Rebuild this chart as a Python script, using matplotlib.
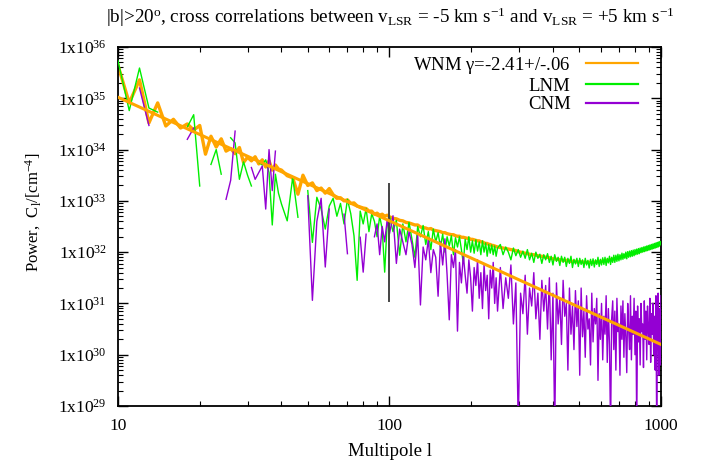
import numpy as np
import matplotlib
matplotlib.use('Agg')
import matplotlib.pyplot as plt
from matplotlib.ticker import FuncFormatter, FixedLocator, NullFormatter

nan = np.nan

# multipole grid (dense at low l, thinned at high l)
l_a = np.arange(10, 41)
l_b = np.arange(42, 101, 2)
l_c = np.arange(103, 251, 3)
l_d = np.arange(256, 1001, 6)

# log10 of the power
wnm_a = [35.64, 34.91, 35.36, 34.52, 34.91, 34.46, 34.59, 34.42, 34.50, 34.38,
         34.47, 33.91, 34.26, 34.05, 34.21, 33.97, 34.02, 33.92, 34.04, 33.75,
         33.85, 33.78, 33.86, 33.72, 33.80, 33.66, 33.78, 33.60, 33.70, 33.62, 33.60]
wnm_b = [33.49, 33.45, 33.13, 33.50, 33.30, 33.35, 33.20, 33.25, 33.15, 33.24,
         33.12, 33.05, 33.06, 33.00, 33.02, 32.95, 32.96, 32.90, 32.88, 32.86,
         32.85, 32.80, 32.80, 32.74, 32.76, 32.72, 32.74, 32.70, 32.72, 32.69]
wnm_c = [32.66, 32.65, 32.62, 32.61, 32.58, 32.57, 32.55, 32.53, 32.53, 32.49,
         32.48, 32.47, 32.45, 32.46, 32.43, 32.42, 32.41, 32.40, 32.38, 32.38,
         32.36, 32.35, 32.34, 32.34, 32.32, 32.31, 32.31, 32.29, 32.29, 32.28,
         32.27, 32.27, 32.25, 32.25, 32.24, 32.23, 32.22, 32.22, 32.20, 32.20,
         32.18, 32.17, 32.17, 32.15, 32.15, 32.13, 32.13, 32.12, 32.11, 32.10]
wnm_d = [32.09, 32.08, 32.07, 32.06, 32.05, 32.04, 32.03, 32.01, 32.00, 31.99,
         31.98, 31.97, 31.96, 31.95, 31.95, 31.94, 31.93, 31.92, 31.92, 31.91,
         31.90, 31.90, 31.89, 31.88, 31.87, 31.87, 31.86, 31.86, 31.85, 31.85,
         31.84, 31.84, 31.84, 31.83, 31.83, 31.82, 31.82, 31.82, 31.82, 31.81,
         31.81, 31.81, 31.81, 31.81, 31.80, 31.80, 31.80, 31.80, 31.80, 31.80,
         31.80, 31.80, 31.80, 31.81, 31.81, 31.81, 31.81, 31.82, 31.82, 31.82,
         31.83, 31.83, 31.83, 31.84, 31.84, 31.85, 31.85, 31.86, 31.86, 31.87,
         31.87, 31.88, 31.88, 31.89, 31.89, 31.90, 31.91, 31.91, 31.92, 31.92,
         31.93, 31.93, 31.94, 31.94, 31.95, 31.96, 31.96, 31.97, 31.97, 31.98,
         31.98, 31.99, 31.99, 32.00, 32.01, 32.01, 32.02, 32.02, 32.03, 32.03,
         32.04, 32.04, 32.05, 32.05, 32.06, 32.06, 32.07, 32.07, 32.08, 32.08,
         32.09, 32.09, 32.10, 32.10, 32.11, 32.11, 32.12, 32.12, 32.13, 32.13,
         32.14, 32.14, 32.15, 32.15, 32.16]

lnm_a = [35.73, 34.76, 35.59, 34.81, 34.73, nan, nan, nan, 34.44, 34.68,
         33.29, nan, 33.71, 34.00, 33.52, nan, 34.23, 34.13, 33.42, 33.76,
         33.50, 33.29, nan, 33.75, 33.70, 33.80, 33.55, 32.53, 33.52, 33.15, 32.94]
lnm_b = [32.61, 33.46, 32.68, nan, 33.20, 32.19, 33.07, 32.84, 32.45, 32.90,
         33.05, 32.70, 32.95, 32.55, 33.03, 32.75, 32.32, 31.45, 32.80, 32.55,
         32.85, 32.40, 32.75, 32.60, 32.30, 32.70, 32.45, 31.61, 32.55, 32.70]
lnm_c = [32.40, 32.62, 31.94, 32.55, 32.20, 32.58, 32.25, 31.90, 32.50, 32.30,
         32.52, 32.15, 32.40, 32.05, 32.45, 32.20, 32.38, 32.10, 32.35, 32.00,
         32.30, 32.12, 32.32, 31.95, 32.28, 32.10, 32.30, 32.05, 31.78, 32.25,
         32.05, 32.30, 32.00, 32.22, 31.98, 32.24, 32.02, 32.20, 31.95, 32.22,
         32.00, 32.18, 31.92, 32.15, 31.98, 32.14, 31.95, 32.12, 31.92, 32.08]
lnm_d = [32.15, 31.95, 32.10, 32.00, 31.85, 32.08, 31.93, 32.05, 31.90, 32.02,
         31.88, 32.05, 31.85, 31.98, 31.80, 32.00, 31.88, 31.96, 31.78, 31.95,
         31.85, 31.97, 31.80, 31.92, 31.75, 31.95, 31.82, 31.90, 31.74, 31.92,
         31.80, 31.90, 31.72, 31.88, 31.78, 31.92, 31.70, 31.86, 31.77, 31.88,
         31.72, 31.88, 31.76, 31.85, 31.70, 31.88, 31.75, 31.84, 31.69, 31.86,
         31.74, 31.87, 31.71, 31.85, 31.76, 31.90, 31.72, 31.86, 31.75, 31.89,
         31.76, 31.90, 31.74, 31.88, 31.79, 31.92, 31.76, 31.90, 31.80, 31.94,
         31.80, 31.94, 31.82, 31.96, 31.83, 31.95, 31.85, 31.98, 31.86, 31.97,
         31.88, 32.00, 31.87, 32.01, 31.90, 32.02, 31.91, 32.03, 31.92, 32.04,
         31.93, 32.05, 31.95, 32.06, 31.96, 32.07, 31.97, 32.08, 31.99, 32.09,
         32.00, 32.10, 32.01, 32.11, 32.02, 32.12, 32.03, 32.13, 32.04, 32.14,
         32.05, 32.15, 32.06, 32.16, 32.07, 32.17, 32.08, 32.18, 32.09, 32.19,
         32.10, 32.20, 32.12, 32.21, 32.16]

cnm_a = [nan, nan, 35.20, 34.47, nan, nan, nan, nan, 34.20, 34.42,
         nan, nan, nan, nan, nan, 33.03, 33.40, 34.36, nan, nan,
         nan, 33.65, 33.42, 33.55, 33.68, 32.84, 34.00, 33.20, 33.97, nan, nan]
cnm_b = [nan, nan, nan, nan, 33.10, 31.06, 32.60, 33.05, 31.71, 32.84,
         nan, nan, nan, 32.74, 31.97, nan, nan, nan, 32.29, 31.61,
         32.35, nan, nan, 32.30, 32.55, 31.95, 32.50, 32.20, 32.62, 32.36]
cnm_c = [32.71, 31.78, 32.45, 32.20, 31.95, 32.40, 32.15, 31.70, 32.35, 30.97,
         32.10, 31.85, 32.25, 31.60, 32.05, 31.90, 31.14, 32.20, 31.75, 32.26,
         31.55, 30.68, 31.95, 31.70, 32.05, 30.46, 31.80, 31.40, 31.95, 31.55,
         31.20, 31.85, 31.50, 30.85, 31.70, 31.35, 31.85, 31.10, 31.60, 30.90,
         31.75, 31.25, 31.55, 30.70, 31.65, 31.30, 31.80, 31.00, 31.50, 30.85]
cnm_d = [31.70, 30.90, 31.50, 31.10, 31.75, 30.60, 31.40, 28.60, 31.20, 30.80,
         31.55, 30.40, 31.30, 30.95, 31.60, 30.70, 31.20, 30.30, 31.45, 30.85,
         31.35, 30.50, 31.50, 29.90, 31.20, 28.50, 31.40, 30.60, 31.10, 30.20,
         31.45, 30.75, 31.00, 29.70, 31.30, 30.40, 30.95, 30.10, 31.25, 30.55,
         31.05, 29.60, 31.30, 30.35, 30.85, 29.95, 31.15, 30.50, 30.70, 29.80,
         31.20, 30.25, 30.90, 30.60, 31.10, 29.50, 30.80, 30.30, 31.00, 29.90,
         30.75, 30.40, 31.15, 29.85, 30.90, 30.20, 28.50, 30.70, 31.05, 30.10,
         30.85, 29.70, 31.10, 30.45, 30.60, 29.60, 30.95, 30.30, 31.05, 29.95,
         30.80, 30.35, 29.65, 31.00, 30.50, 30.10, 31.15, 29.90, 30.75, 30.40,
         31.10, 30.00, 30.85, 28.50, 30.95, 30.25, 30.70, 29.80, 31.00, 30.45,
         30.60, 29.75, 31.05, 30.30, 30.85, 29.90, 30.95, 30.50, 30.20, 31.10,
         29.85, 30.80, 30.40, 31.00, 30.00, 30.75, 29.70, 31.15, 28.50, 30.60,
         31.20, 29.60, 30.90, 29.80, 31.15]

# power-law fit to the WNM: C_l = amp * l^gamma
fit_gamma = -2.41
fit_amp = 10 ** 35.02 * 10 ** 2.41

# odd vertical stroke at l = 100
spike_l = [100, 100]
spike_p = [33.32, 31.04]

x_ticks = [10, 100, 1000]
y_exps = [29, 30, 31, 32, 33, 34, 35, 36]

ell = np.concatenate([l_a, l_b, l_c, l_d])
wnm = 10 ** np.array(wnm_a + wnm_b + wnm_c + wnm_d)
lnm = 10 ** np.array(lnm_a + lnm_b + lnm_c + lnm_d)
cnm = 10 ** np.array(cnm_a + cnm_b + cnm_c + cnm_d)

plt.rcParams['font.family'] = ['Liberation Serif', 'DejaVu Serif']
plt.rcParams['mathtext.fontset'] = 'custom'
plt.rcParams['mathtext.rm'] = 'Liberation Serif'
plt.rcParams['mathtext.it'] = 'Liberation Serif:italic'
plt.rcParams['mathtext.default'] = 'rm'

fig = plt.figure(figsize=(7.13, 4.66), dpi=100)
ax = fig.add_axes([118 / 713, 1 - 406 / 466, 543 / 713, 359 / 466])

orange = '#ffa500'
green = '#00ee00'
purple = '#9400d3'

ax.plot(ell, wnm, color=orange, lw=2.4, zorder=2, label=r'WNM $\gamma$=-2.41+/-.06')
ax.plot(ell, lnm, color=green, lw=1.0, zorder=3, label='LNM')
ax.plot(ell, cnm, color=purple, lw=1.0, zorder=4, label='CNM')
ax.plot(spike_l, 10 ** np.array(spike_p), color='#444444', lw=1.4, zorder=4)
lfit = np.array([10, 1000])
ax.plot(lfit, fit_amp * lfit ** fit_gamma, color=orange, lw=2.2, zorder=5)

ax.set_xscale('log')
ax.set_yscale('log')
ax.set_xlim(10, 1000)
ax.set_ylim(1e29, 1e36)

y_major = [10.0 ** e for e in y_exps]
y_minor = [m * 10.0 ** e for e in y_exps[:-1] for m in range(2, 10)]
x_minor = [m * 10 ** e for e in (1, 2) for m in range(2, 10)]
ax.yaxis.set_major_locator(FixedLocator(y_major))
ax.yaxis.set_minor_locator(FixedLocator(y_minor))
ax.yaxis.set_minor_formatter(NullFormatter())
ax.yaxis.set_major_formatter(FuncFormatter(lambda v, p: '1x10$^{%d}$' % round(np.log10(v))))
ax.xaxis.set_major_locator(FixedLocator(x_ticks))
ax.xaxis.set_minor_locator(FixedLocator(x_minor))
ax.xaxis.set_major_formatter(FuncFormatter(lambda v, p: '%d' % round(v)))
ax.xaxis.set_minor_formatter(NullFormatter())

ax.tick_params(which='both', direction='in', top=True, right=True, labelsize=12.5, colors='black')
ax.tick_params(which='major', length=7, width=1.0)
ax.tick_params(which='minor', length=3.5, width=0.8)
ax.tick_params(axis='x', pad=9)
ax.tick_params(axis='y', pad=8)
for sp in ax.spines.values():
    sp.set_linewidth(1.3)

leg = ax.legend(loc='upper right', bbox_to_anchor=(0.958, 0.978), frameon=False,
                markerfirst=False, fontsize=13.5, handlelength=2.8, handletextpad=0.8,
                labelspacing=0.08, borderaxespad=0, borderpad=0)
for h in leg.get_lines():
    h.set_linewidth(1.6)

fig.text(390 / 713, 1 - 23 / 466,
         r'|b|>20$^{o}$, cross correlations between v$_{LSR}$ = -5 km s$^{-1}$'
         r' and v$_{LSR}$ = +5 km s$^{-1}$',
         ha='center', va='baseline', fontsize=13.8)
fig.text(390 / 713, 1 - 452 / 466, 'Multipole l', ha='center', va='center', fontsize=13.5)
fig.text(33 / 713, 1 - 212 / 466, r'Power,  C$_{l}$/[cm$^{-4}$]', rotation=90,
         ha='center', va='center', fontsize=12)

fig.savefig('out.png', dpi=100)
